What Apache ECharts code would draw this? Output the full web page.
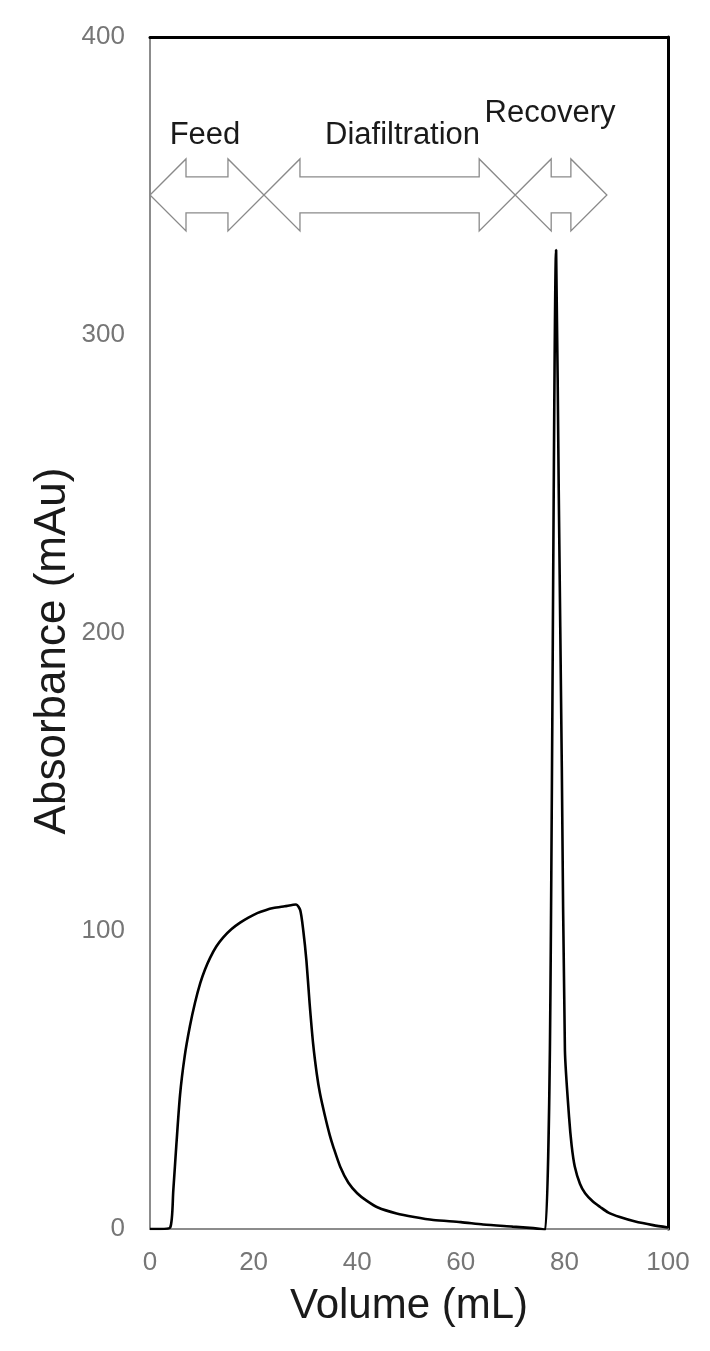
<!DOCTYPE html>
<html>
<head>
<meta charset="utf-8">
<script src="https://cdn.jsdelivr.net/npm/echarts@6/dist/echarts.min.js"></script>
<style>
  html, body { margin: 0; padding: 0; background: #fff; }
  #chart { width: 710px; height: 1351px; }
</style>
</head>
<body>
<div id="chart"></div>
<script>
// ---- Data ----
const volume = [0, 2, 3.9, 4.5, 5.0, 5.8, 6.7, 7.7, 8.7, 9.7, 10.6, 11.6, 12.8, 14.1, 15.7, 17.4, 19, 20.7, 22.3, 23.8, 26, 28.2,
  29.0, 29.6, 30.2, 30.8, 31.5, 32.2, 32.8, 33.7, 34.7, 35.4, 36.7, 38.3, 40, 41.8, 44, 47.6, 51, 54.7, 60, 64.3, 70, 74, 75.5, 76.3,
  77.2, 78.4, 78.9, 79.5, 80.1, 80.9, 81.4, 82.0, 83, 84, 85.5, 86.9, 88.5, 90.7, 93.5, 97.1, 100];
const absorbance = [0, 0, 0.5, 13, 26, 45, 58, 68, 76, 82.5, 87, 91, 94.8, 97.8, 100.6, 102.8, 104.5, 106, 107, 107.7, 108.3, 108.9,
  107, 100, 90, 76, 62, 52, 45.6, 38.5, 31.5, 27.5, 21, 15.5, 12, 9.5, 7.2, 5.2, 4, 3, 2.3, 1.5, 0.8, 0.3, 0, -0.3,
  60, 328.5, 249, 155, 60, 37.6, 28, 21, 15.2, 12, 9.2, 7.4, 5.5, 4, 2.6, 1.3, 0.5];

const phaseNames = ['Feed', 'Diafiltration', 'Recovery'];
const phaseStart = [0, 22, 70.5];
const phaseEnd = [22, 70.5, 88.2];
const phaseLevel = [347, 347, 347];

const xTicks = [0, 20, 40, 60, 80, 100];
const yTicks = [0, 100, 200, 300, 400];

// ---- Styling (pixels) ----
const labelOffsets = [[-2, -59], [13, -59], [-11, -81]];
const FONT = '"Liberation Sans", Arial, sans-serif';

const seriesData = volume.map((v, i) => [v, absorbance[i]]);
const phaseData = phaseNames.map((n, i) => [phaseStart[i], phaseEnd[i], phaseLevel[i], i]);

const chart = echarts.init(document.getElementById('chart'), null, { renderer: 'canvas' });

const option = {
  backgroundColor: '#ffffff',
  animation: false,
  grid: { left: 150, right: 42, top: 37, bottom: 122, containLabel: false },
  xAxis: [{
    type: 'value', min: xTicks[0], max: xTicks[xTicks.length - 1], interval: 20,
    axisLine: { show: true, onZero: false, lineStyle: { color: '#8c8c8c', width: 2 } },
    axisTick: { show: false }, splitLine: { show: false },
    axisLabel: { color: '#767676', fontSize: 26, fontFamily: FONT, margin: 21 },
    name: 'Volume (mL)', nameLocation: 'middle', nameGap: 56,
    nameTextStyle: { color: '#1a1a1a', fontSize: 42, fontFamily: FONT }
  }, {
    type: 'value', position: 'top', min: 0, max: 100,
    axisLine: { show: true, onZero: false, lineStyle: { color: '#000', width: 3 } },
    axisTick: { show: false }, axisLabel: { show: false }, splitLine: { show: false }
  }],
  yAxis: [{
    type: 'value', min: yTicks[0], max: yTicks[yTicks.length - 1], interval: 100,
    axisLine: { show: true, onZero: false, lineStyle: { color: '#8c8c8c', width: 2 } },
    axisTick: { show: false }, splitLine: { show: false },
    axisLabel: { color: '#767676', fontSize: 26, fontFamily: FONT, margin: 25 }
  }, {
    type: 'value', position: 'right', min: 0, max: 400,
    axisLine: { show: true, onZero: false, lineStyle: { color: '#000', width: 3 } },
    axisTick: { show: false }, axisLabel: { show: false }, splitLine: { show: false }
  }],
  graphic: [{
    type: 'text', x: 53, y: 651, rotation: Math.PI / 2,
    style: { text: 'Absorbance (mAu)', fill: '#1a1a1a', font: '44px ' + FONT, align: 'center', verticalAlign: 'middle' }
  }],
  series: [{
    type: 'line', data: seriesData, showSymbol: false, symbol: 'none',
    smooth: 0.25,
    lineStyle: { color: '#000', width: 2.6 }, z: 5
  }, {
    type: 'custom', data: phaseData, clip: false, z: 4,
    renderItem: function (params, api) {
      const p0 = api.coord([api.value(0), api.value(2)]);
      const p1 = api.coord([api.value(1), api.value(2)]);
      const idx = api.value(3);
      const x0 = p0[0], x1 = p1[0], y = p0[1];
      const head = 36, hh = 36, sh = 18;
      const pts = [
        [x0, y], [x0 + head, y - hh], [x0 + head, y - sh], [x1 - head, y - sh], [x1 - head, y - hh],
        [x1, y], [x1 - head, y + hh], [x1 - head, y + sh], [x0 + head, y + sh], [x0 + head, y + hh]
      ];
      const off = labelOffsets[idx];
      return {
        type: 'group',
        children: [{
          type: 'polygon', shape: { points: pts },
          style: { fill: 'none', stroke: '#8a8a8a', lineWidth: 1.3 }
        }, {
          type: 'text', x: (x0 + x1) / 2 + off[0], y: y + off[1],
          style: { text: phaseNames[idx], fill: '#1a1a1a', font: '31px ' + FONT, align: 'center', verticalAlign: 'middle' }
        }]
      };
    }
  }]
};

chart.setOption(option);
</script>
</body>
</html>
